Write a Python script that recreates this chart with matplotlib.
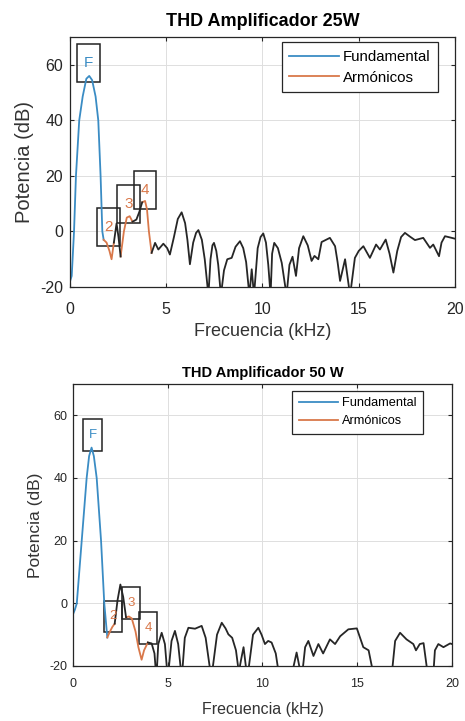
import matplotlib
matplotlib.use("Agg")
import matplotlib.pyplot as plt
import matplotlib.transforms as mtransforms
from matplotlib.patches import Rectangle
from matplotlib.lines import Line2D

plt.rcParams['font.family'] = ['Liberation Sans', 'DejaVu Sans']
plt.rcParams['axes.unicode_minus'] = False

# ---------------------------------------------------------------
# data (frequency in kHz, power in dB)
# ---------------------------------------------------------------
# --- 25 W ---
f25_fund = [0, 0.09, 0.21, 0.31, 0.48, 0.66, 0.85, 1.0, 1.15, 1.33, 1.47, 1.59, 1.68, 1.75]
p25_fund = [-18, -16, 0, 20, 40, 48.6, 55, 56, 54.5, 48.6, 40, 20, 0, -3]

f25_h2 = [1.75, 1.9, 2.05, 2.16, 2.28]
p25_h2 = [-3, -4, -7, -10, -4]
f25_n1 = [2.28, 2.42, 2.52, 2.63]
p25_n1 = [-4, 2.9, -2, -9]
f25_h3 = [2.63, 2.8, 2.95, 3.1, 3.25]
p25_h3 = [-9, 0, 5, 5.5, 3.5]
f25_n2 = [3.25, 3.45, 3.6, 3.75]
p25_n2 = [3.5, 4.3, 7, 10.5]
f25_h4 = [3.75, 3.9, 4.0, 4.1, 4.24]
p25_h4 = [10.5, 11, 8, 0, -7.7]

f25_rest = [4.24, 4.42, 4.59, 4.85, 5.05, 5.19, 5.4, 5.6, 5.8, 5.98, 6.1, 6.23, 6.4, 6.55,
            6.67, 6.85, 7.0, 7.19, 7.3, 7.4, 7.48, 7.6, 7.7, 7.84, 8.0, 8.17, 8.4, 8.6, 8.83,
            9.0, 9.15, 9.32, 9.44, 9.56, 9.75, 9.9, 10.04, 10.18, 10.3, 10.42, 10.5, 10.61,
            10.8, 11.0, 11.25, 11.4, 11.56, 11.74, 11.9, 12.12, 12.35, 12.55, 12.7, 12.9,
            13.07, 13.5, 13.77, 13.9, 14.03, 14.29, 14.55, 14.8, 15.0, 15.24, 15.58, 15.9,
            16.1, 16.4, 16.6, 16.8, 17.0, 17.2, 17.4, 17.65, 17.92, 18.35, 18.7, 18.87,
            19.17, 19.3, 19.48, 19.83, 20.0]
p25_rest = [-7.7, -4.1, -6.5, -4.4, -6, -8.3, -2, 4.5, 6.9, 3, -3, -11.8, -4, -0.5,
            0.5, -3, -10, -23, -10, -5, -4.1, -7, -12, -23, -14, -10, -9.5, -5.5, -3.5,
            -6, -11, -23, -13.6, -23, -6, -2, -0.7, -4, -12, -23, -8, -4.1,
            -6, -11.3, -23, -12, -9.1, -16, -6, -1.7, -5, -10.6, -8.8, -10,
            -3.8, -2.3, -5.3, -11, -17.8, -10, -23, -9.5, -7, -5.3, -9.5, -4.7,
            -6.5, -2.9, -8, -14.8, -7, -2, -0.5, -1.8, -3.1, -2.3, -5.9, -4.7,
            -8.9, -4, -1.7, -2.3, -2.6]

# harmonic labels: frequency, level, text
h25_f = [0.97, 2.0, 3.05, 3.89]
h25_p = [56, -3, 5.2, 10.4]
h_labels = ['F', '2', '3', '4']

# --- 50 W ---
f50_fund = [0, 0.1, 0.2, 0.46, 0.72, 0.85, 0.98, 1.1, 1.25, 1.48, 1.65, 1.81]
p50_fund = [-3.5, -2, 0, 20, 40, 47, 49.7, 47, 40, 20, 0, -10.9]

f50_h2 = [1.81, 1.95, 2.08, 2.2]
p50_h2 = [-10.9, -9, -7.5, -6.5]
f50_n1 = [2.2, 2.35, 2.5, 2.65, 2.8]
p50_n1 = [-6.5, 1, 6, 2, -4.5]
f50_h34 = [2.8, 2.95, 3.1, 3.3, 3.45, 3.62, 3.75, 3.95]
p50_h34 = [-4.5, -4.2, -4.8, -9, -14, -18, -15, -12.5]

f50_rest = [3.95, 4.15, 4.3, 4.4, 4.5, 4.68, 4.85, 5.0, 5.2, 5.38, 5.55, 5.74, 5.9, 6.09,
            6.44, 6.79, 7.0, 7.3, 7.6, 7.85, 8.05, 8.2, 8.4, 8.6, 8.75, 8.87, 9.0, 9.2,
            9.5, 9.78, 9.95, 10.13, 10.3, 10.48, 10.7, 10.9, 11.5, 11.8, 12.07, 12.25,
            12.42, 12.69, 12.95, 13.2, 13.56, 13.83, 14.1, 14.53, 14.98, 15.15, 15.32,
            15.6, 15.9, 16.8, 17.0, 17.26, 17.6, 17.96, 18.1, 18.3, 18.5, 18.75, 19.0,
            19.1, 19.28, 19.55, 19.9, 20.0]
p50_rest = [-12.5, -12.8, -16, -24, -13, -9.4, -13, -24, -12, -8.8, -13, -24, -11, -7.8,
            -8.1, -7.2, -11, -24, -10, -6.2, -8, -9.9, -11, -15, -22, -18, -14, -24,
            -10, -7.8, -10, -13, -12, -12.5, -16, -24, -24, -15.7, -24, -14,
            -12, -16.8, -13, -16, -11.5, -13, -10.5, -8.3, -8, -11, -14,
            -15, -24, -24, -12, -9.4, -11.5, -13, -15, -13, -12.7, -24, -24,
            -15, -13, -14, -12.8, -13]

h50_f = [1.03, 2.12, 3.07, 3.96]
h50_p = [49.6, -8.3, -3.9, -12]

x_ticks = [0, 5, 10, 15, 20]
y_ticks = [-20, 0, 20, 40, 60]

BLUE = '#3a8cc4'
ORANGE = '#d9784a'
BLACK = '#262626'

fig = plt.figure(figsize=(4.65, 7.21), dpi=100)
ax1 = fig.add_axes([0.1505, 0.6019, 0.828, 0.3467])
ax2 = fig.add_axes([0.157, 0.0763, 0.815, 0.3911])


def draw_panel(ax, title, fund, harm, noise, hf, hp, st):
    ax.plot(*fund, color=BLUE, lw=1.3)
    for f, p in harm:
        ax.plot(f, p, color=ORANGE, lw=1.3)
    for f, p in noise:
        ax.plot(f, p, color=BLACK, lw=1.3)

    # label boxes (like the matlab thd annotations)
    bw, bh, y0 = st['box']
    for i, (f, p, lab) in enumerate(zip(hf, hp, h_labels)):
        trans = fig.dpi_scale_trans + mtransforms.ScaledTranslation(f, p, ax.transData)
        ax.add_patch(Rectangle((-bw / 2, y0), bw, bh, transform=trans,
                               fill=False, ec='#222222', lw=1.1, clip_on=False))
        ax.text(0, y0 + bh / 2, lab, transform=trans, ha='center', va='center',
                color=BLUE if i == 0 else ORANGE, fontsize=st['box_fs'])

    ax.set_xlim(0, 20)
    ax.set_ylim(-20, 70)
    ax.set_xticks(x_ticks)
    ax.set_yticks(y_ticks)
    ax.grid(True, color='#dedede', lw=0.7)
    ax.set_axisbelow(True)
    ax.tick_params(direction='in', top=True, right=True, length=3,
                   labelsize=st['tick_fs'], colors='#262626')
    ax.tick_params(axis='x', pad=st['xpad'])
    ax.tick_params(axis='y', pad=st['ypad'])
    for s in ax.spines.values():
        s.set_color('#262626')
        s.set_linewidth(0.9)
    ax.set_title(title, fontweight='bold', fontsize=st['title_fs'], pad=st['title_pad'])
    ax.set_xlabel('Frecuencia (kHz)', fontsize=st['xlab_fs'], color='#333333',
                  labelpad=st['xlab_pad'])
    ax.set_ylabel('Potencia (dB)', fontsize=st['ylab_fs'], color='#333333',
                  labelpad=st['ylab_pad'])

    handles = [Line2D([], [], color=BLUE, lw=1.3), Line2D([], [], color=ORANGE, lw=1.3)]
    leg = ax.legend(handles, ['Fundamental', 'Armónicos'], loc='upper right',
                    bbox_to_anchor=st['leg_anchor'], borderaxespad=0, fancybox=False,
                    edgecolor='#262626', framealpha=1, fontsize=st['leg_fs'],
                    handlelength=st['handle'], handletextpad=0.3, labelspacing=0.45,
                    borderpad=0.5)
    leg.get_frame().set_linewidth(0.9)


style25 = dict(box=(0.227, 0.384, -0.064), box_fs=11, tick_fs=11.5, xpad=11, ypad=5,
               title_fs=13, title_pad=8, xlab_fs=13, xlab_pad=4, ylab_fs=14.5, ylab_pad=4,
               leg_fs=10.8, handle=3.3, leg_anchor=(0.9566, 0.979))
style50 = dict(box=(0.183, 0.317, -0.03), box_fs=9.5, tick_fs=9, xpad=9, ypad=4,
               title_fs=10.5, title_pad=5, xlab_fs=11.5, xlab_pad=8, ylab_fs=12.5, ylab_pad=5,
               leg_fs=9.2, handle=3.1, leg_anchor=(0.924, 0.975))

draw_panel(ax1, 'THD Amplificador 25W',
           (f25_fund, p25_fund),
           [(f25_h2, p25_h2), (f25_h3, p25_h3), (f25_h4, p25_h4)],
           [(f25_n1, p25_n1), (f25_n2, p25_n2), (f25_rest, p25_rest)],
           h25_f, h25_p, style25)

draw_panel(ax2, 'THD Amplificador 50 W',
           (f50_fund, p50_fund),
           [(f50_h2, p50_h2), (f50_h34, p50_h34)],
           [(f50_n1, p50_n1), (f50_rest, p50_rest)],
           h50_f, h50_p, style50)

fig.savefig('out.png', dpi=100)
